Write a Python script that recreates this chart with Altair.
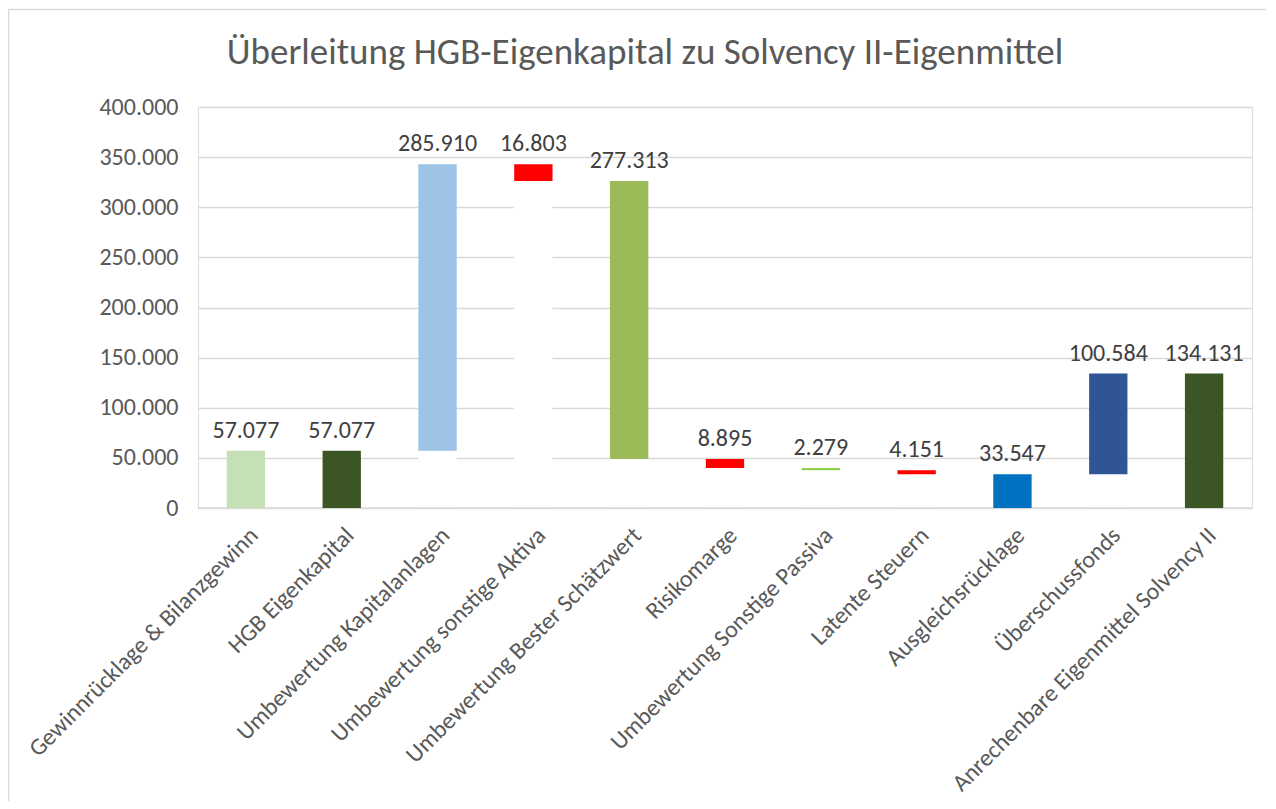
import altair as alt
import pandas as pd

# ---- data ----
categories = [
    "Gewinnrücklage & Bilanzgewinn",
    "HGB Eigenkapital",
    "Umbewertung Kapitalanlagen",
    "Umbewertung sonstige Aktiva",
    "Umbewertung Bester Schätzwert",
    "Risikomarge",
    "Umbewertung Sonstige Passiva",
    "Latente Steuern",
    "Ausgleichsrücklage",
    "Überschussfonds",
    "Anrechenbare Eigenmittel Solvency II",
]
amounts = [57077, 57077, 285910, -16803, -277313, -8895, -2279, -4151, 33547, 100584, 134131]
kinds = ["total", "total", "delta", "delta", "delta", "delta", "delta", "delta", "total", "delta", "total"]
colors = ["#C5E0B4", "#3B5624", "#9DC3E6", "#FF0000", "#9BBB59", "#FF0000",
          "#92D050", "#FF0000", "#0070C0", "#2F5597", "#3B5624"]
y_ticks = [0, 50000, 100000, 150000, 200000, 250000, 300000, 350000, 400000]
title_text = "Überleitung HGB-Eigenkapital zu Solvency II-Eigenmittel"


def de_fmt(v):
    return f"{abs(v):,}".replace(",", ".")


rows = []
running = 0
for cat, amt, kind, col in zip(categories, amounts, kinds, colors):
    if kind == "total":
        start, end = 0, amt
    else:
        start, end = running, running + amt
    running = end
    rows.append({
        "cat": cat,
        "start": start,
        "end": end,
        "lo": min(start, end),
        "hi": max(start, end),
        "zero": 0,
        "label": de_fmt(amt),
        "color": col,
    })
df = pd.DataFrame(rows)

FONT = "Carlito, Open Sans, sans-serif"
W, H = 1054, 401
FS = 24

x_enc = alt.X(
    "cat:N",
    sort=categories,
    title=None,
    scale=alt.Scale(paddingInner=0.6, paddingOuter=0.3),
    axis=alt.Axis(
        labelAngle=-45,
        labelFont=FONT,
        labelFontSize=FS,
        labelColor="#595959",
        labelPadding=15,
        ticks=False,
        domain=False,
        labelLimit=600,
    ),
)
y_scale = alt.Scale(domain=[0, 400000], nice=False)
y_axis = alt.Axis(
    values=y_ticks,
    labelExpr="replace(format(datum.value, ',d'), ',', '.')",
    labelFont=FONT,
    labelFontSize=FS,
    labelColor="#595959",
    labelPadding=20,
    ticks=False,
    domain=False,
    grid=True,
    gridColor="#D9D9D9",
    gridWidth=1.3,
)

base = alt.Chart(df)

# white "invisible" base bars (they cover the gridlines like in the original)
white = base.transform_filter("datum.lo > 0").mark_bar(color="white").encode(
    x=x_enc,
    y=alt.Y("zero:Q", scale=y_scale, axis=y_axis, title=None),
    y2="lo:Q",
)

bars = base.mark_bar().encode(
    x=alt.X("cat:N", sort=categories),
    y=alt.Y("lo:Q", scale=y_scale),
    y2="hi:Q",
    color=alt.Color("color:N", scale=None),
)

labels = base.mark_text(
    font=FONT, fontSize=FS, color="#404040", baseline="alphabetic", dy=-13
).encode(
    x=alt.X("cat:N", sort=categories),
    y=alt.Y("hi:Q", scale=y_scale),
    text="label:N",
)

one = pd.DataFrame({"v": [0]})

zero_line = alt.Chart(one).mark_rule(
    color="#D9D9D9", strokeWidth=1.3
).encode(y=alt.Y("v:Q", scale=y_scale), x=alt.value(0), x2=alt.value(W))

border_top = alt.Chart(one).mark_rule(
    color="#D9D9D9", strokeWidth=1.5
).encode(x=alt.value(-189.5), x2=alt.value(W + 14), y=alt.value(-97.5))

border_left = alt.Chart(one).mark_rule(
    color="#D9D9D9", strokeWidth=1.5
).encode(x=alt.value(-189.5), y=alt.value(-97.5), y2=alt.value(H + 293))

title = alt.Chart(one).mark_text(
    font=FONT, fontSize=37, color="#595959", align="center", baseline="alphabetic"
).encode(x=alt.value(447), y=alt.value(-43), text=alt.value(title_text))

chart = (
    alt.layer(white, zero_line, bars, labels, border_top, border_left, title)
    .properties(
        width=W,
        height=H,
        autosize=alt.AutoSizeParams(type="none"),
        padding={"left": 190, "top": 99, "right": 16, "bottom": 293},
    )
    .configure_view(stroke=None)
    .configure(background="white")
)

chart.save("out.html", embed_options={"renderer": "svg", "actions": False})
